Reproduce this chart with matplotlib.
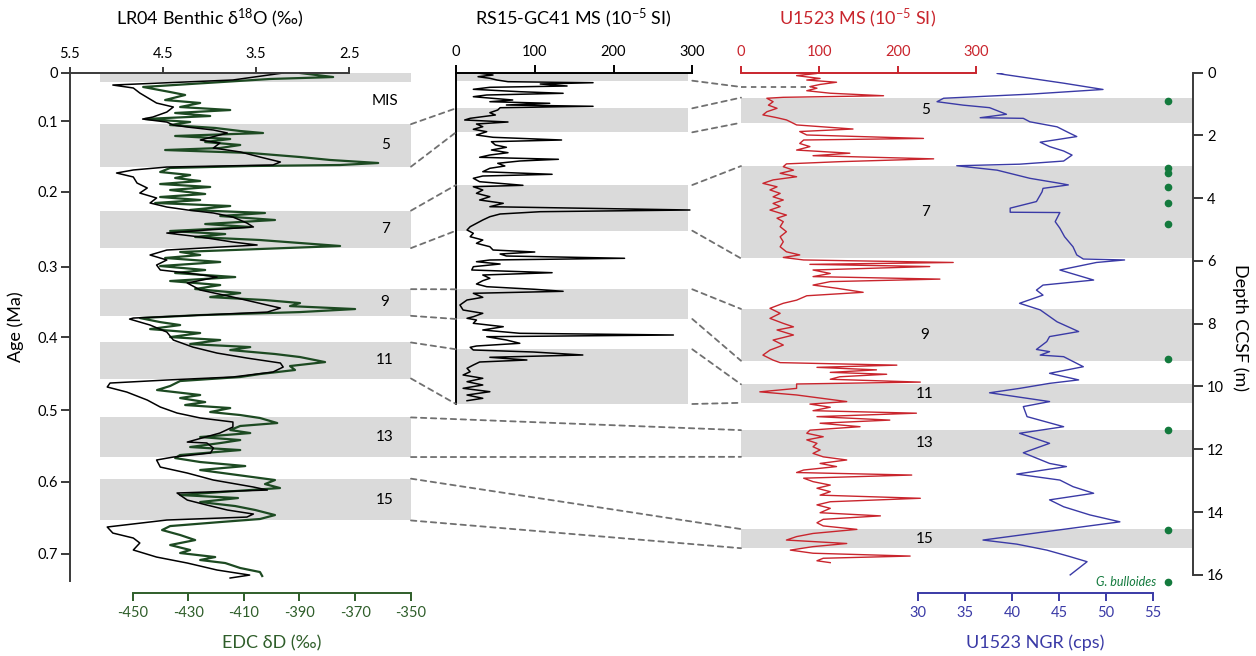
"""
Stacked records: LR04 / EDC (age), RS15-GC41 MS, U1523 MS + NGR (depth)
"""

import numpy as np
import matplotlib
matplotlib.use('Agg')
from matplotlib import pyplot as plt
from matplotlib.patches import ConnectionPatch

plt.rcParams['font.family'] = ['Lato', 'DejaVu Sans']
plt.rcParams['mathtext.fontset'] = 'custom'
plt.rcParams['mathtext.rm'] = 'Lato'
plt.rcParams['mathtext.it'] = 'Lato:italic'
plt.rcParams['axes.unicode_minus'] = False

# ---------------- data ----------------
# LR04 benthic d18O (permil) vs age (Ma)
lr04_age = [0, 0.0097, 0.0167, 0.0208, 0.0278, 0.0417, 0.0472, 0.0542, 0.0611, 0.0639,
            0.0681, 0.0722, 0.075, 0.0791, 0.0833, 0.093, 0.0972, 0.1041, 0.1096, 0.1166,
            0.1235, 0.1277, 0.1305, 0.1346, 0.1388, 0.1443, 0.1527, 0.1596, 0.1666, 0.1735,
            0.1804, 0.186, 0.1901, 0.1943, 0.1999, 0.2082, 0.2137, 0.2179, 0.2221, 0.2276,
            0.2346, 0.2387, 0.2457, 0.2526, 0.2595, 0.2665, 0.2734, 0.2776, 0.2832, 0.2915,
            0.3012, 0.311, 0.3221, 0.3262, 0.3318, 0.336, 0.3401, 0.3415, 0.3498, 0.3595,
            0.3706, 0.3804, 0.3887, 0.3956, 0.4025, 0.4081, 0.415, 0.4219, 0.4261, 0.4303,
            0.4358, 0.4428, 0.4539, 0.4636, 0.4719, 0.4788, 0.4844, 0.4913, 0.4997, 0.5122,
            0.5135, 0.5205, 0.5274, 0.533, 0.5371, 0.5469, 0.5552, 0.5649, 0.5746, 0.5788,
            0.5829, 0.5927, 0.5996, 0.6065, 0.6121, 0.6163, 0.6204, 0.6301, 0.6385, 0.6454,
            0.6523, 0.662, 0.6718, 0.6801, 0.6898, 0.6968, 0.7009]
lr04_d18o = [3.21, 3.75, 5.04, 4.82, 4.75, 4.57, 4.39, 4.46, 4.61, 4.72,
             4.46, 4.39, 4.24, 3.96, 3.81, 4.10, 3.89, 3.96, 3.67, 3.46,
             3.24, 3.32, 4.46, 4.82, 5.00, 4.82, 4.78, 4.67, 4.75, 4.57,
             4.64, 4.46, 4.24, 3.96, 3.75, 3.60, 3.53, 4.03, 4.46, 4.10,
             3.75, 3.49, 4.46, 4.64, 4.46, 4.57, 4.53, 4.24, 3.92, 4.24,
             4.10, 3.75, 3.38, 3.24, 3.38, 4.10, 4.82, 4.86, 4.64, 4.46,
             4.39, 4.18, 3.92, 3.60, 3.24, 3.21, 3.32, 3.75, 4.46, 5.07,
             5.10, 4.89, 4.67, 4.53, 4.35, 4.10, 3.75, 3.75, 3.89, 4.24,
             4.03, 3.96, 3.99, 4.39, 4.57, 4.53, 4.24, 3.96, 3.53, 3.38,
             4.35, 4.24, 4.03, 3.81, 3.53, 3.60, 4.46, 5.10, 5.04, 4.82,
             4.75, 4.82, 4.57, 4.24, 3.92, 3.57, 3.78]

# EDC dD (permil) vs age (Ma)
edc_age = [0, 0.0056, 0.0083, 0.0194, 0.0264, 0.0305, 0.0375, 0.0416, 0.0472, 0.0514,
           0.0555, 0.0597, 0.0638, 0.068, 0.0722, 0.0763, 0.0805, 0.0833, 0.0874, 0.0916,
           0.0958, 0.0999, 0.1041, 0.1069, 0.111, 0.1166, 0.1207, 0.1249, 0.1277, 0.1291,
           0.1318, 0.1374, 0.1416, 0.1457, 0.1499, 0.1541, 0.1582, 0.1624, 0.1679, 0.1721,
           0.1763, 0.1804, 0.1846, 0.1901, 0.1943, 0.1985, 0.204, 0.2096, 0.2137, 0.2193,
           0.2235, 0.2276, 0.2318, 0.2359, 0.2401, 0.2484, 0.2526, 0.2567, 0.2623, 0.2679,
           0.2734, 0.2776, 0.2832, 0.2887, 0.2943, 0.2998, 0.3054, 0.311, 0.3151, 0.3193,
           0.3235, 0.3276, 0.3318, 0.336, 0.3401, 0.3457, 0.3498, 0.3554, 0.3609, 0.3665,
           0.3706, 0.3762, 0.3804, 0.3845, 0.39, 0.3942, 0.4012, 0.4067, 0.4122, 0.4178,
           0.4219, 0.4275, 0.4344, 0.44, 0.4469, 0.4511, 0.4567, 0.4608, 0.465, 0.4705,
           0.4747, 0.4788, 0.4858, 0.4899, 0.4955, 0.4997, 0.5052, 0.5094, 0.5136, 0.5191,
           0.5233, 0.5302, 0.5344, 0.5399, 0.5455, 0.551, 0.5566, 0.5649, 0.5705, 0.576,
           0.5816, 0.5857, 0.5899, 0.5954, 0.601, 0.6065, 0.6135, 0.619, 0.6232, 0.6288,
           0.6343, 0.6412, 0.6482, 0.6551, 0.662, 0.6662, 0.6718, 0.6759, 0.6801, 0.687,
           0.6926, 0.6981]
edc_dD = [-389.8, -377.9, -400.6, -446.2, -436.5, -431.1, -438.3, -425.7, -432.9, -414.9,
          -434.7, -422.1, -445.5, -429.3, -436.5, -420.3, -411.3, -403.1, -434.7, -414.9,
          -423.9, -411.3, -418.5, -438.3, -407.7, -389.8, -379.0, -361.7, -375.4, -407.7,
          -436.5, -440.1, -429.3, -434.7, -425.7, -440.1, -422.1, -436.5, -423.9, -440.1,
          -425.7, -441.9, -414.9, -429.3, -402.4, -418.5, -398.8, -423.9, -407.7, -436.5,
          -416.7, -427.5, -404.2, -389.8, -375.4, -432.9, -425.7, -438.3, -418.5, -440.1,
          -423.9, -434.7, -413.1, -436.5, -418.5, -427.5, -411.3, -422.1, -402.4, -389.8,
          -393.4, -370.0, -389.8, -425.7, -447.3, -440.1, -432.9, -443.7, -425.7, -436.5,
          -418.5, -429.3, -407.7, -414.9, -398.8, -389.8, -380.8, -393.4, -391.6, -404.2,
          -411.3, -432.9, -436.5, -441.2, -425.7, -432.9, -423.9, -431.1, -414.9, -422.1,
          -411.3, -404.2, -398.0, -411.3, -414.9, -407.7, -425.7, -411.3, -418.5, -429.3,
          -411.3, -432.9, -434.7, -425.7, -409.5, -425.7, -414.9, -398.8, -402.4, -397.0,
          -418.5, -432.9, -412.1, -425.7, -413.1, -405.9, -398.8, -404.2, -418.5, -436.5,
          -439.4, -432.9, -427.5, -436.5, -429.3, -432.9, -420.3, -425.7, -416.7, -411.3,
          -404.2, -403.4]

# RS15-GC41 magnetic susceptibility (1e-5 SI) vs core depth (cm)
gc41_depth = [0.3, 2, 3.7, 5.3, 7, 8.7, 9.7, 11, 13, 14.3,
              16.3, 18.7, 20.3, 22, 23.7, 25.3, 27, 28.7, 30.3, 32,
              33.3, 34.7, 37, 39.7, 42, 45.3, 47, 49, 51, 53.7,
              56.3, 58.7, 62, 64.3, 67, 68.7, 72, 74.3, 77, 79.7,
              82, 84.3, 86.3, 88, 90.3, 93, 95.3, 98.7, 101.3, 103,
              105.3, 108.7, 112.3, 113.7, 117, 120.3, 123.7, 127, 130.3, 133.7,
              137, 138.7, 141, 143.7, 147, 150.3, 153.7, 157, 160.3, 163.7,
              167, 170.3, 173.7, 177, 179, 181, 183, 185.3, 187, 188.7,
              191, 193.7, 197, 199.7, 202, 205.3, 207.7, 211, 213.7, 216.3,
              218.3, 220.3, 224.3, 227, 232, 237, 240.3, 243.7, 245.3, 247,
              250.3, 253.7, 257, 260.3, 262, 263.7, 267, 270.3, 273, 274.3,
              277, 279, 282, 284.3, 287, 289, 292, 295.3, 298.7, 302,
              305.3, 308.7, 312, 315.3, 318.7, 322, 325.3, 327.7]
gc41_ms = [30.5, 47, 28, 43, 52, 66, 174, 107, 141, 43,
           22, 81, 136, 39, 22, 47, 72, 43, 119, 64,
           174, 56, 53, 43, 50, 18, 11, 66, 26, 34,
           22, 39, 26, 47, 134, 45, 50, 64, 45, 66,
           43, 30, 130, 81, 53, 62, 43, 34, 122, 34,
           22, 30, 85, 22, 34, 26, 43, 30, 60, 43,
           297, 107, 56, 43, 34, 26, 18, 14, 22, 18,
           34, 26, 43, 47, 100, 56, 64, 214, 43, 26,
           56, 22, 20, 122, 34, 43, 34, 26, 39, 100,
           136, 22, 34, 14, 5, 9, 34, 22, 14, 26,
           22, 60, 34, 81, 276, 39, 64, 81, 26, 18,
           22, 98, 161, 43, 90, 30, 22, 14, 18, 9,
           34, 14, 34, 9, 43, 14, 34, 14]

# U1523 magnetic susceptibility (1e-5 SI) vs depth CCSF (m)
u1523_ms_depth = [0, 0.03, 0.10, 0.19, 0.24, 0.31, 0.38, 0.45, 0.50, 0.58,
                  0.66, 0.74, 0.79, 0.82, 0.93, 1.04, 1.14, 1.25, 1.35, 1.44,
                  1.51, 1.57, 1.67, 1.80, 1.88, 1.99, 2.10, 2.15, 2.26, 2.36,
                  2.47, 2.57, 2.65, 2.75, 2.84, 2.91, 3.00, 3.11, 3.21, 3.32,
                  3.42, 3.53, 3.64, 3.74, 3.85, 3.96, 4.06, 4.17, 4.27, 4.38,
                  4.54, 4.64, 4.75, 4.91, 5.07, 5.23, 5.39, 5.55, 5.71, 5.81,
                  5.89, 5.97, 6.05, 6.11, 6.18, 6.29, 6.40, 6.50, 6.58, 6.66,
                  6.77, 6.87, 7.00, 7.11, 7.25, 7.35, 7.51, 7.67, 7.83, 7.99,
                  8.10, 8.20, 8.36, 8.52, 8.68, 8.84, 9.00, 9.16, 9.24, 9.32,
                  9.39, 9.47, 9.55, 9.61, 9.69, 9.77, 9.86, 9.92, 10.06, 10.17,
                  10.27, 10.38, 10.48, 10.56, 10.66, 10.77, 10.85, 10.96, 11.07, 11.17,
                  11.28, 11.39, 11.49, 11.60, 11.70, 11.81, 11.92, 12.02, 12.13, 12.24,
                  12.34, 12.45, 12.55, 12.66, 12.74, 12.82, 12.92, 13.03, 13.14, 13.24,
                  13.35, 13.46, 13.56, 13.67, 13.77, 13.88, 14.02, 14.12, 14.23, 14.34,
                  14.44, 14.55, 14.68, 14.78, 14.89, 15.00, 15.10, 15.21, 15.31, 15.40,
                  15.47, 15.55, 15.61]
u1523_ms = [67, 97, 71, 101, 84, 122, 101, 88, 97, 84,
            114, 182, 54, 33, 41, 35, 46, 33, 28, 46,
            58, 63, 71, 143, 75, 84, 233, 80, 75, 88,
            71, 139, 92, 246, 126, 58, 54, 67, 50, 71,
            41, 28, 46, 37, 50, 41, 54, 41, 50, 37,
            58, 46, 54, 50, 58, 50, 54, 50, 58, 75,
            54, 80, 271, 88, 241, 92, 114, 92, 254, 114,
            92, 122, 156, 84, 71, 54, 37, 50, 37, 54,
            67, 46, 67, 41, 54, 37, 28, 41, 50, 199,
            97, 173, 114, 186, 126, 114, 229, 71, 71, 24,
            71, 105, 135, 88, 114, 92, 224, 97, 190, 101,
            152, 88, 84, 105, 84, 97, 92, 101, 92, 105,
            135, 101, 122, 80, 71, 218, 80, 92, 114, 97,
            114, 101, 229, 114, 97, 114, 101, 178, 105, 97,
            105, 148, 92, 71, 58, 135, 92, 63, 92, 216,
            105, 97, 114]

# U1523 natural gamma radiation (cps) vs depth CCSF (m)
u1523_ngr_depth = [0, 0.03, 0.34, 0.54, 0.69, 0.82, 0.93, 1.04, 1.12, 1.33,
                   1.44, 1.46, 1.57, 1.73, 1.94, 2.04, 2.22, 2.36, 2.50, 2.63,
                   2.82, 2.92, 2.97, 3.11, 3.37, 3.53, 3.58, 3.69, 3.80, 4.11,
                   4.32, 4.45, 4.46, 4.75, 4.96, 5.23, 5.55, 5.81, 5.94, 5.97,
                   6.05, 6.29, 6.61, 6.77, 6.93, 7.09, 7.35, 7.56, 7.94, 8.25,
                   8.41, 8.57, 8.82, 8.89, 9.00, 9.05, 9.37, 9.58, 9.79, 9.90,
                   10.06, 10.20, 10.48, 10.64, 10.96, 11.28, 11.49, 11.81, 12.11, 12.45,
                   12.55, 12.79, 12.98, 13.19, 13.40, 13.61, 13.83, 14.09, 14.31, 14.89,
                   15.02, 15.21, 15.42, 15.58, 16.00]
u1523_ngr = [39.1, 38.4, 45.5, 49.7, 41.9, 32.7, 32.0, 34.8, 37.6, 39.4,
             36.6, 41.2, 41.9, 44.8, 46.2, 46.9, 43.0, 44.0, 45.5, 46.4,
             45.5, 40.8, 34.1, 38.4, 41.9, 45.1, 46.0, 43.3, 43.2, 42.6,
             39.8, 39.8, 45.1, 44.6, 45.1, 45.6, 46.5, 46.9, 47.6, 52.0,
             49.0, 45.1, 48.7, 43.3, 42.6, 43.3, 40.8, 43.0, 44.8, 47.1,
             44.0, 43.7, 42.6, 44.0, 43.0, 45.5, 47.6, 44.0, 47.1, 44.0,
             40.8, 37.6, 44.0, 41.2, 41.6, 45.5, 40.8, 44.0, 41.2, 44.0,
             45.8, 40.5, 45.1, 46.5, 48.7, 44.0, 45.5, 48.3, 51.5, 36.9,
             40.5, 43.7, 46.2, 48.0, 46.2]

# G. bulloides occurrences (depth, m)
bulloides_depth = [0.90, 3.03, 3.21, 3.65, 4.15, 4.83, 9.13, 11.39, 14.57, 16.22]

# interglacial (odd MIS) intervals in each record
mis_labels = ['1', '5', '7', '9', '11', '13', '15']
lr04_bands = [(0, 0.012), (0.071, 0.130), (0.191, 0.243), (0.300, 0.337),
              (0.374, 0.424), (0.478, 0.533), (0.563, 0.621)]
gc41_bands = [(0, 7.7), (35.3, 59.3), (112, 157.7), (216.3, 246), (276.3, 331)]  # MIS 1-11
u1523_bands = [(0.80, 1.60), (2.98, 5.92), (7.53, 9.18), (9.93, 10.52),
               (11.39, 12.24), (14.54, 15.15)]  # MIS 5-15
u1523_mis1_base = 0.46

# age axis labels of the original sit ~0.033 Ma off the data scale
age_tick_pos = [0, 0.067, 0.165, 0.269, 0.367, 0.468, 0.567, 0.667]
age_tick_labels = ['0', '0.1', '0.2', '0.3', '0.4', '0.5', '0.6', '0.7']

# ---------------- styling ----------------
band_col = '#dadada'
dash_col = '#707070'
axis_col = '#3a3a3a'
green_line = '#1d4a22'
green_axis = '#2f5e2a'
red = '#c9252d'
blue = '#3a3aa6'
dot_green = '#137a3d'
tick_fs = 10.5
title_fs = 13

W, H = 1256, 656


def px_box(x0, y0, x1, y1):
    # pixel box (top-left origin) -> figure fraction rect
    return [x0 / W, 1 - y1 / H, (x1 - x0) / W, (y1 - y0) / H]


def only_spines(ax, keep):
    for name, sp in ax.spines.items():
        sp.set_visible(name in keep)


fig = plt.figure(figsize=(W / 100, H / 100), dpi=100)

# ---- left panel: EDC (bottom axis) + LR04 (top axis) vs age ----
ax1 = fig.add_axes(px_box(70, 73, 411, 593.3))
ax1.set_ylim(0.7221, 0)
ax1.set_xlim(-472.5, -349.9)
for top, bot in lr04_bands:
    ax1.axhspan(top, bot, xmin=0.088, xmax=1, color=band_col, lw=0, zorder=0)
ax1.plot(edc_dD, edc_age, color=green_line, lw=1.6)
only_spines(ax1, ['left', 'bottom'])
ax1.spines['left'].set_bounds(0, 0.705)
ax1.spines['left'].set_color(axis_col)
ax1.spines['left'].set_linewidth(1.4)
ax1.spines['bottom'].set_bounds(-450, -350)
ax1.spines['bottom'].set_color(green_axis)
ax1.spines['bottom'].set_linewidth(1.4)
ax1.set_xticks(np.arange(-450, -349, 20))
ax1.tick_params(axis='x', colors=green_axis, labelsize=tick_fs, length=6, width=1.4, pad=3)
ax1.set_yticks(age_tick_pos)
ax1.set_yticklabels(age_tick_labels)
ax1.tick_params(axis='y', colors=axis_col, labelcolor='black', labelsize=tick_fs,
                length=6.5, width=1.4, pad=2)

ax1t = ax1.twiny()
ax1t.set_xlim(5.5, 1.837)
ax1t.plot(lr04_d18o, lr04_age, color='black', lw=1.1)
only_spines(ax1t, ['top'])
ax1t.spines['top'].set_bounds(2.5, 5.5)
ax1t.spines['top'].set_color(axis_col)
ax1t.spines['top'].set_linewidth(1.4)
ax1t.set_xticks([5.5, 4.5, 3.5, 2.5])
ax1t.set_xticklabels(['5.5', '4.5', '3.5', '2.5'])
ax1t.tick_params(axis='x', colors=axis_col, labelcolor='black', labelsize=tick_fs,
                 length=4, width=1.4, pad=4.5)

lr04_lab_x = 0.924
ax1.text(lr04_lab_x, 0.039, 'MIS', transform=ax1.get_yaxis_transform(),
         ha='center', va='center', fontsize=11)
for lab, (top, bot) in zip(mis_labels[1:], lr04_bands[1:]):
    ax1.text(lr04_lab_x, (top + bot) / 2, lab, transform=ax1.get_yaxis_transform(),
             ha='center', va='center', fontsize=11)

# ---- middle panel: RS15-GC41 MS ----
ax2 = fig.add_axes(px_box(456, 73, 692.3, 404))
ax2.set_xlim(0, 300)
ax2.set_ylim(331, 0)
for top, bot in gc41_bands:
    ax2.axhspan(top, bot, xmin=0, xmax=0.983, color=band_col, lw=0, zorder=0)
ax2.plot(gc41_ms, gc41_depth, color='black', lw=1.1)
only_spines(ax2, ['left', 'top'])
for sp in ('left', 'top'):
    ax2.spines[sp].set_color('black')
    ax2.spines[sp].set_linewidth(1.4)
ax2.xaxis.tick_top()
ax2.set_xticks([0, 100, 200, 300])
ax2.set_yticks([])
ax2.tick_params(axis='x', labelsize=tick_fs, length=6, width=1.4, pad=4)

# ---- right panel: U1523 NGR (bottom) + MS (top) vs depth ----
ax3 = fig.add_axes(px_box(741, 72.5, 1193.3, 593.3))
ax3.set_ylim(16.586, 0)
ax3.set_xlim(11.09, 59.33)
for top, bot in u1523_bands:
    ax3.axhspan(top, bot, color=band_col, lw=0, zorder=0)
ax3.plot(u1523_ngr, u1523_ngr_depth, color=blue, lw=1.0)
ax3.plot(np.full(len(bulloides_depth), 0.945), bulloides_depth, 'o', color=dot_green,
         ms=4.5, transform=ax3.get_yaxis_transform())
ax3.text(0.9175, bulloides_depth[-1], 'G. bulloides', transform=ax3.get_yaxis_transform(),
         ha='right', va='center', style='italic', color=dot_green, fontsize=9)
only_spines(ax3, ['right', 'bottom'])
ax3.spines['right'].set_bounds(0, 16)
ax3.spines['right'].set_color(axis_col)
ax3.spines['right'].set_linewidth(1.4)
ax3.spines['bottom'].set_bounds(30, 55)
ax3.spines['bottom'].set_color(blue)
ax3.spines['bottom'].set_linewidth(1.4)
ax3.yaxis.tick_right()
ax3.set_yticks(np.arange(0, 17, 2))
ax3.tick_params(axis='y', colors=axis_col, labelcolor='black', labelsize=tick_fs,
                length=7, width=1.4, pad=3)
ax3.set_xticks(np.arange(30, 56, 5))
ax3.tick_params(axis='x', colors=blue, labelsize=tick_fs, length=6, width=1.4, pad=3)
for lab, (top, bot) in zip(mis_labels[1:], u1523_bands):
    ax3.text(0.407, (top + bot) / 2, lab, transform=ax3.get_yaxis_transform(),
             ha='center', va='center', fontsize=11)

ax3t = ax3.twiny()
ax3t.set_xlim(0, 577.6)
ax3t.plot(u1523_ms, u1523_ms_depth, color=red, lw=1.0)
only_spines(ax3t, ['top'])
ax3t.spines['top'].set_bounds(0, 300)
ax3t.spines['top'].set_color(red)
ax3t.spines['top'].set_linewidth(1.4)
ax3t.set_xticks([0, 100, 200, 300])
ax3t.tick_params(axis='x', colors=red, labelsize=tick_fs, length=5, width=1.4, pad=5)
ax3.xaxis.tick_bottom()

# MIS 1 base in U1523, dashed up to the MS curve
ms_at_base = np.interp(u1523_mis1_base, u1523_ms_depth, u1523_ms)
ax3t.plot([0, ms_at_base], [u1523_mis1_base] * 2, color=dash_col, lw=1.3,
          linestyle=(0, (3, 2.5)))


# ---- dashed tie lines between records ----
def tie(ax_a, y_a, ax_b, y_b):
    con = ConnectionPatch(xyA=(1, y_a), coordsA=ax_a.get_yaxis_transform(),
                          xyB=(0, y_b), coordsB=ax_b.get_yaxis_transform(),
                          color=dash_col, lw=1.3, linestyle=(0, (3, 2.5)))
    fig.add_artist(con)


# LR04 MIS 5-11 -> GC41
for (a0, a1), (g0, g1) in zip(lr04_bands[1:5], gc41_bands[1:5]):
    tie(ax1, a0, ax2, g0)
    tie(ax1, a1, ax2, g1)
# LR04 MIS 13-15 -> U1523 directly
for (a0, a1), (u0, u1) in zip(lr04_bands[5:], u1523_bands[4:]):
    tie(ax1, a0, ax3, u0)
    tie(ax1, a1, ax3, u1)
# GC41 -> U1523
tie(ax2, gc41_bands[0][1], ax3, u1523_mis1_base)
for (g0, g1), (u0, u1) in zip(gc41_bands[1:], u1523_bands[:4]):
    tie(ax2, g0, ax3, u0)
    tie(ax2, g1, ax3, u1)

# ---- titles / axis labels ----
fig.text(210 / W, 1 - 18 / H, r'LR04 Benthic δ$^{18}$O (‰)', ha='center', va='center',
         fontsize=title_fs)
fig.text(573 / W, 1 - 18 / H, r'RS15-GC41 MS (10$^{-5}$ SI)', ha='center', va='center',
         fontsize=title_fs)
fig.text(858 / W, 1 - 18 / H, r'U1523 MS (10$^{-5}$ SI)', ha='center', va='center',
         fontsize=title_fs, color=red)
fig.text(272 / W, 1 - 643 / H, 'EDC δD (‰)', ha='center', va='center',
         fontsize=title_fs, color=green_axis)
fig.text(1035 / W, 1 - 643 / H, 'U1523 NGR (cps)', ha='center', va='center',
         fontsize=title_fs, color=blue)
fig.text(16 / W, 1 - 327 / H, 'Age (Ma)', ha='center', va='center', rotation=90,
         fontsize=title_fs)
fig.text(1240 / W, 1 - 327 / H, 'Depth CCSF (m)', ha='center', va='center', rotation=270,
         fontsize=title_fs)

fig.savefig('out.png', dpi=100)
